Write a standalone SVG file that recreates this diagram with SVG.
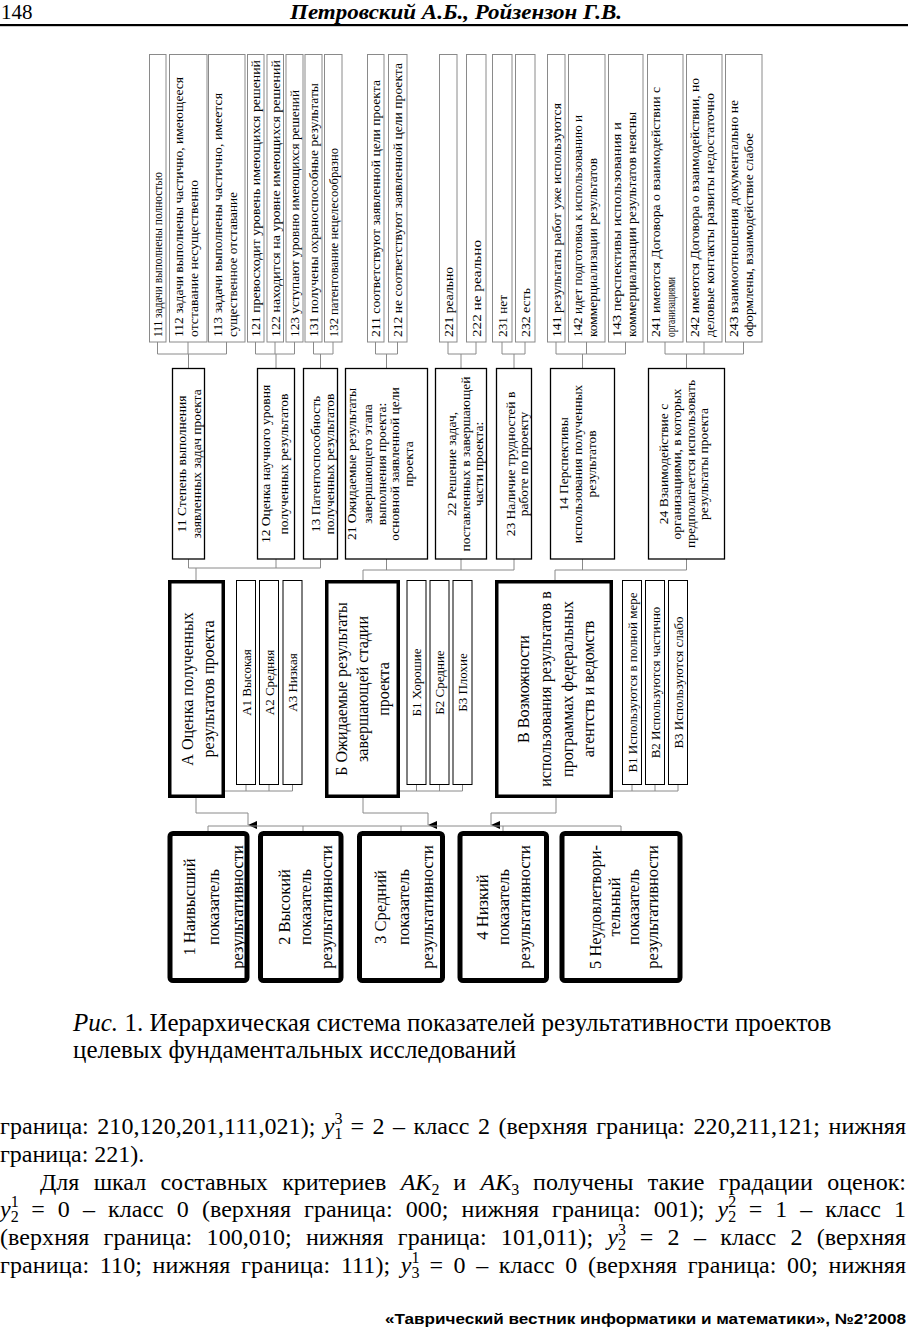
<svg xmlns="http://www.w3.org/2000/svg" width="908" height="1332" viewBox="0 0 908 1332">
<style>
text{font-family:"Liberation Serif","Times New Roman",serif;fill:#000}
.leaf rect{fill:#fff;stroke:#8a8a8a;stroke-width:1}
.mid rect{fill:#fff;stroke:#000;stroke-width:1.3}
.sub rect{fill:#fff;stroke:#000;stroke-width:1}
.lv2 rect{fill:#fff;stroke:#000;stroke-width:3.5}
.bot rect{fill:#fff;stroke:#000;stroke-width:5}
.lt{font-size:13px}
.mt{font-size:13.5px;text-anchor:middle}
.st{font-size:13px;text-anchor:middle}
.l2t{font-size:16px;text-anchor:middle}
.bt{font-size:16.5px;text-anchor:middle}
.conn path{fill:none;stroke:#8a8a8a;stroke-width:1}
.body{font-size:24px}
.cap{font-size:25px}
.mi{font-size:24px;font-style:italic}
.ms{font-size:16px}
</style>
<defs>
<marker id="ah" markerUnits="userSpaceOnUse" markerWidth="8" markerHeight="9" refX="4" refY="9" orient="auto-start-reverse" viewBox="0 0 8 9">
<path d="M0,0 L8,0 L4,9 z" fill="#000"/>
</marker>
</defs>
<rect x="0" y="0" width="908" height="1332" fill="#fff"/>

<g id="header">
<text x="1" y="19" style="font-size:21px">148</text>
<text x="456" y="19" style="font-size:21px;font-weight:bold;font-style:italic;text-anchor:middle" textLength="332" lengthAdjust="spacingAndGlyphs">Петровский А.Б., Ройзензон Г.В.</text>
<rect x="0" y="24" width="908" height="2.2" fill="#000"/>
</g>

<g id="connectors" class="conn">
<path d="M157.5,342V354M188,342V354M226.5,342V354M157.5,354H226.5M188.5,354V368"/>
<path d="M255.5,342V354M275,342V354M294.5,342V354M255.5,354H294.5M276,354V368"/>
<path d="M313.5,342V354M333,342V354M313.5,354H333M320.5,354V368"/>
<path d="M375.5,342V354M397.5,342V354M375.5,354H397.5M386.5,354V368"/>
<path d="M448,342V354M476,342V354M448,354H476M461,354V368"/>
<path d="M502,342V354M525,342V354M502,354H525M514,354V368"/>
<path d="M556,342V354M586.5,342V354M625.5,342V354M556,354H625.5M582.5,354V368"/>
<path d="M665,342V354M704,342V354M743.5,342V354M665,354H743.5M686.5,354V368"/>
<path d="M188.5,559V568M276,559V568M320.5,559V568M188.5,568H320.5M196,568V580"/>
<path d="M386.5,559V570M461,559V570M514,559V570M363,570H514M363,570V580"/>
<path d="M582.5,559V570M686.5,559V570M555,570H686.5M555,570V580"/>
<path d="M246,785V791M269,785V791M292.5,785V791M225,791H292.5"/>
<path d="M416.5,785V791M439.5,785V791M462.5,785V791M400,791H462.5"/>
<path d="M632,785V791M655,785V791M678,785V791M613,791H678"/>
<path d="M196,798V813H248V825" marker-end="url(#ah)"/>
<path d="M363,798V813H428V825" marker-end="url(#ah)"/>
<path d="M556,798V813H491V825" marker-end="url(#ah)"/>
<path d="M208,826H621M208,826V831M303,826V831M401,826V831M503,826V831M621,826V831"/>
</g>

<g id="n111" class="leaf"><rect x="149.5" y="54.5" width="16.5" height="287.5"/>
<text class="lt" transform="translate(162,337) rotate(-90)" textLength="165" lengthAdjust="spacingAndGlyphs">111 задачи выполнены полностью</text></g>
<g id="n112" class="leaf"><rect x="169.5" y="54.5" width="37.5" height="287.5"/>
<text class="lt" transform="translate(182.5,337) rotate(-90)" textLength="260" lengthAdjust="spacingAndGlyphs">112 задачи выполнены частично, имеющееся</text>
<text class="lt" transform="translate(197.5,337) rotate(-90)" textLength="157" lengthAdjust="spacingAndGlyphs">отставание несущественно</text></g>
<g id="n113" class="leaf"><rect x="208.5" y="54.5" width="36.5" height="287.5"/>
<text class="lt" transform="translate(221.5,337) rotate(-90)" textLength="244" lengthAdjust="spacingAndGlyphs">113 задачи выполнены частично, имеется</text>
<text class="lt" transform="translate(236.5,337) rotate(-90)" textLength="145" lengthAdjust="spacingAndGlyphs">существенное отставание</text></g>
<g id="n121" class="leaf"><rect x="247.5" y="54.5" width="16.5" height="287.5"/>
<text class="lt" transform="translate(260,337) rotate(-90)" textLength="277" lengthAdjust="spacingAndGlyphs">121 превосходит уровень имеющихся решений</text></g>
<g id="n122" class="leaf"><rect x="267" y="54.5" width="16.5" height="287.5"/>
<text class="lt" transform="translate(279.5,337) rotate(-90)" textLength="277" lengthAdjust="spacingAndGlyphs">122 находится на уровне имеющихся решений</text></g>
<g id="n123" class="leaf"><rect x="286" y="54.5" width="17" height="287.5"/>
<text class="lt" transform="translate(299,337) rotate(-90)" textLength="247" lengthAdjust="spacingAndGlyphs">123 уступают уровню имеющихся решений</text></g>
<g id="n131" class="leaf"><rect x="305" y="54.5" width="17" height="287.5"/>
<text class="lt" transform="translate(318,337) rotate(-90)" textLength="254" lengthAdjust="spacingAndGlyphs">131 получены охраноспособные результаты</text></g>
<g id="n132" class="leaf"><rect x="324.5" y="54.5" width="17.5" height="287.5"/>
<text class="lt" transform="translate(337.5,337) rotate(-90)" textLength="189" lengthAdjust="spacingAndGlyphs">132 патентование нецелесообразно</text></g>
<g id="n211" class="leaf"><rect x="367.5" y="54.5" width="16.5" height="287.5"/>
<text class="lt" transform="translate(380,337) rotate(-90)" textLength="257" lengthAdjust="spacingAndGlyphs">211 соответствуют заявленной цели проекта</text></g>
<g id="n212" class="leaf"><rect x="388.5" y="54.5" width="18.5" height="287.5"/>
<text class="lt" transform="translate(402,337) rotate(-90)" textLength="274" lengthAdjust="spacingAndGlyphs">212 не соответствуют заявленной цели проекта</text></g>
<g id="n221" class="leaf"><rect x="439.5" y="54.5" width="17.5" height="287.5"/>
<text class="lt" transform="translate(452.5,337) rotate(-90)" textLength="70" lengthAdjust="spacingAndGlyphs">221 реально</text></g>
<g id="n222" class="leaf"><rect x="466.5" y="54.5" width="19.5" height="287.5"/>
<text class="lt" transform="translate(480.5,337) rotate(-90)" textLength="97" lengthAdjust="spacingAndGlyphs">222 не реально</text></g>
<g id="n231" class="leaf"><rect x="492.5" y="54.5" width="19.5" height="287.5"/>
<text class="lt" transform="translate(506.5,337) rotate(-90)" textLength="42" lengthAdjust="spacingAndGlyphs">231 нет</text></g>
<g id="n232" class="leaf"><rect x="515.5" y="54.5" width="19.5" height="287.5"/>
<text class="lt" transform="translate(529.5,337) rotate(-90)" textLength="49" lengthAdjust="spacingAndGlyphs">232 есть</text></g>
<g id="n141" class="leaf"><rect x="547.5" y="54.5" width="17.5" height="287.5"/>
<text class="lt" transform="translate(560.5,337) rotate(-90)" textLength="234" lengthAdjust="spacingAndGlyphs">141 результаты работ уже используются</text></g>
<g id="n142" class="leaf"><rect x="568.5" y="54.5" width="36.5" height="287.5"/>
<text class="lt" transform="translate(581.5,337) rotate(-90)" textLength="222" lengthAdjust="spacingAndGlyphs">142 идет подготовка к использованию и</text>
<text class="lt" transform="translate(596.5,337) rotate(-90)" textLength="179" lengthAdjust="spacingAndGlyphs">коммерциализации результатов</text></g>
<g id="n143" class="leaf"><rect x="608.5" y="54.5" width="34.5" height="287.5"/>
<text class="lt" transform="translate(621,337) rotate(-90)" textLength="215" lengthAdjust="spacingAndGlyphs">143 перспективы использования и</text>
<text class="lt" transform="translate(636,337) rotate(-90)" textLength="225" lengthAdjust="spacingAndGlyphs">коммерциализации результатов неясны</text></g>
<g id="n241" class="leaf"><rect x="647.5" y="54.5" width="35.5" height="287.5"/>
<text class="lt" transform="translate(660,337) rotate(-90)" textLength="250" lengthAdjust="spacingAndGlyphs">241 имеются Договора о взаимодействии с</text>
<text class="lt" transform="translate(675,337) rotate(-90)" textLength="60" lengthAdjust="spacingAndGlyphs">организациями</text></g>
<g id="n242" class="leaf"><rect x="686.5" y="54.5" width="35.5" height="287.5"/>
<text class="lt" transform="translate(699,337) rotate(-90)" textLength="259" lengthAdjust="spacingAndGlyphs">242 имеются Договора о взаимодействии, но</text>
<text class="lt" transform="translate(714,337) rotate(-90)" textLength="244" lengthAdjust="spacingAndGlyphs">деловые контакты развиты недостаточно</text></g>
<g id="n243" class="leaf"><rect x="725.5" y="54.5" width="36.5" height="287.5"/>
<text class="lt" transform="translate(738,337) rotate(-90)" textLength="237" lengthAdjust="spacingAndGlyphs">243 взаимоотношения документально не</text>
<text class="lt" transform="translate(753,337) rotate(-90)" textLength="204" lengthAdjust="spacingAndGlyphs">оформлены,  взаимодействие слабое</text></g>

<g id="n11" class="mid"><rect x="172.5" y="368.5" width="32" height="190.5"/>
<text class="mt" transform="translate(186,464) rotate(-90)">11 Степень выполнения</text>
<text class="mt" transform="translate(201,464) rotate(-90)">заявленных задач проекта</text></g>
<g id="n12" class="mid"><rect x="257.5" y="368.5" width="37" height="190.5"/>
<text class="mt" transform="translate(270,464) rotate(-90)">12 Оценка научного уровня</text>
<text class="mt" transform="translate(288,464) rotate(-90)">полученных  результатов</text></g>
<g id="n13" class="mid"><rect x="303.5" y="368.5" width="34" height="190.5"/>
<text class="mt" transform="translate(319.5,464) rotate(-90)">13 Патентоспособность</text>
<text class="mt" transform="translate(333.5,464) rotate(-90)">полученных результатов</text></g>
<g id="n21" class="mid"><rect x="345.5" y="368.5" width="82" height="190.5"/>
<text class="mt" transform="translate(356,464) rotate(-90)">21 Ожидаемые результаты</text>
<text class="mt" transform="translate(371.5,464) rotate(-90)">завершающего этапа</text>
<text class="mt" transform="translate(385.5,464) rotate(-90)">выполнения проекта:</text>
<text class="mt" transform="translate(399,464) rotate(-90)">основной заявленной цели</text>
<text class="mt" transform="translate(412.5,464) rotate(-90)">проекта</text></g>
<g id="n22" class="mid"><rect x="435.5" y="368.5" width="51" height="190.5"/>
<text class="mt" transform="translate(456,464) rotate(-90)">22 Решение задач,</text>
<text class="mt" transform="translate(469.5,464) rotate(-90)">поставленных в завершающей</text>
<text class="mt" transform="translate(482.5,464) rotate(-90)">части проекта:</text></g>
<g id="n23" class="mid"><rect x="496.5" y="368.5" width="35" height="190.5"/>
<text class="mt" transform="translate(514.5,464) rotate(-90)">23 Наличие трудностей в</text>
<text class="mt" transform="translate(527.5,464) rotate(-90)">работе по проекту</text></g>
<g id="n14" class="mid"><rect x="550.5" y="368.5" width="64" height="190.5"/>
<text class="mt" transform="translate(568,464) rotate(-90)">14 Перспективы</text>
<text class="mt" transform="translate(581.5,464) rotate(-90)">использования полученных</text>
<text class="mt" transform="translate(596,464) rotate(-90)">результатов</text></g>
<g id="n24" class="mid"><rect x="648.5" y="368.5" width="76" height="190.5"/>
<text class="mt" transform="translate(667.5,464) rotate(-90)">24 Взаимодействие с</text>
<text class="mt" transform="translate(681,464) rotate(-90)">организациями, в которых</text>
<text class="mt" transform="translate(694.5,464) rotate(-90)">предполагается использовать</text>
<text class="mt" transform="translate(708,464) rotate(-90)">результаты проекта</text></g>

<g id="nA" class="lv2"><rect x="169.75" y="581.75" width="53.5" height="214.5"/>
<text class="l2t" transform="translate(192.5,689) rotate(-90)">А Оценка полученных</text>
<text class="l2t" transform="translate(214,689) rotate(-90)">результатов проекта</text></g>
<g id="nB" class="lv2"><rect x="326.75" y="581.75" width="71.5" height="214.5"/>
<text class="l2t" transform="translate(347,689) rotate(-90)">Б Ожидаемые результаты</text>
<text class="l2t" transform="translate(367.5,689) rotate(-90)">завершающей стадии</text>
<text class="l2t" transform="translate(388.5,689) rotate(-90)">проекта</text></g>
<g id="nV" class="lv2"><rect x="496.75" y="581.75" width="114.5" height="214.5"/>
<text class="l2t" transform="translate(529,689) rotate(-90)">В Возможности</text>
<text class="l2t" transform="translate(551,689) rotate(-90)">использования результатов в</text>
<text class="l2t" transform="translate(572.5,689) rotate(-90)">программах федеральных</text>
<text class="l2t" transform="translate(594,689) rotate(-90)">агентств и ведомств</text></g>

<g id="nA1" class="sub"><rect x="236.5" y="580.5" width="19" height="204"/><text class="st" transform="translate(250.5,682.5) rotate(-90)">А1 Высокая</text></g>
<g id="nA2" class="sub"><rect x="259.5" y="580.5" width="19" height="204"/><text class="st" transform="translate(273.5,682.5) rotate(-90)">А2 Средняя</text></g>
<g id="nA3" class="sub"><rect x="283" y="580.5" width="19" height="204"/><text class="st" transform="translate(297,682.5) rotate(-90)">А3 Низкая</text></g>
<g id="nB1" class="sub"><rect x="407" y="580.5" width="19" height="204"/><text class="st" transform="translate(421,682.5) rotate(-90)">Б1 Хорошие</text></g>
<g id="nB2" class="sub"><rect x="430" y="580.5" width="19" height="204"/><text class="st" transform="translate(444,682.5) rotate(-90)">Б2 Средние</text></g>
<g id="nB3" class="sub"><rect x="453" y="580.5" width="19" height="204"/><text class="st" transform="translate(467,682.5) rotate(-90)">Б3 Плохие</text></g>
<g id="nV1" class="sub"><rect x="622.5" y="580.5" width="19" height="204"/><text class="st" transform="translate(636.5,682.5) rotate(-90)">В1 Используются в полной мере</text></g>
<g id="nV2" class="sub"><rect x="645.5" y="580.5" width="19" height="204"/><text class="st" transform="translate(659.5,682.5) rotate(-90)">В2 Используются частично</text></g>
<g id="nV3" class="sub"><rect x="668.5" y="580.5" width="19" height="204"/><text class="st" transform="translate(682.5,682.5) rotate(-90)">В3 Используются слабо</text></g>

<g id="r1" class="bot"><rect x="170" y="833.5" width="77" height="147" rx="3"/>
<text class="bt" transform="translate(195,907) rotate(-90)">1 Наивысший</text>
<text class="bt" transform="translate(219,907) rotate(-90)">показатель</text>
<text class="bt" transform="translate(243,907) rotate(-90)">результативности</text></g>
<g id="r2" class="bot"><rect x="260.5" y="833.5" width="80.5" height="147" rx="3"/>
<text class="bt" transform="translate(289.5,907) rotate(-90)">2 Высокий</text>
<text class="bt" transform="translate(310.5,907) rotate(-90)">показатель</text>
<text class="bt" transform="translate(331.5,907) rotate(-90)">результативности</text></g>
<g id="r3" class="bot"><rect x="359.5" y="833.5" width="83" height="147" rx="3"/>
<text class="bt" transform="translate(386,907) rotate(-90)">3 Средний</text>
<text class="bt" transform="translate(409,907) rotate(-90)">показатель</text>
<text class="bt" transform="translate(433,907) rotate(-90)">результативности</text></g>
<g id="r4" class="bot"><rect x="460" y="833.5" width="86.5" height="147" rx="3"/>
<text class="bt" transform="translate(488,907) rotate(-90)">4 Низкий</text>
<text class="bt" transform="translate(509,907) rotate(-90)">показатель</text>
<text class="bt" transform="translate(530,907) rotate(-90)">результативности</text></g>
<g id="r5" class="bot"><rect x="562" y="833.5" width="118" height="147" rx="3"/>
<text class="bt" transform="translate(601,907) rotate(-90)">5 Неудовлетвори-</text>
<text class="bt" transform="translate(620,907) rotate(-90)">тельный</text>
<text class="bt" transform="translate(639,907) rotate(-90)">показатель</text>
<text class="bt" transform="translate(658,907) rotate(-90)">результативности</text></g>

<g id="caption">
<text class="cap" x="73" y="1031"><tspan font-style="italic">Рис.</tspan> 1. Иерархическая система показателей результативности проектов</text>
<text class="cap" x="73" y="1058">целевых фундаментальных исследований</text>
</g>

<g id="bodytext">
<text class="body" x="0" y="1134" style="word-spacing:2.4px" textLength="315.4" lengthAdjust="spacing">граница: 210,120,201,111,021);</text>
<text class="mi" x="323.8" y="1134">y</text><text class="ms" x="334.5" y="1124">3</text><text class="ms" x="334.5" y="1139">1</text>
<text class="body" x="350.4" y="1134" style="word-spacing:2.4px" textLength="555.6" lengthAdjust="spacing">= 2 – класс 2 (верхняя граница: 220,211,121; нижняя</text>

<text class="body" x="0" y="1162">граница: 221).</text>

<text class="body" x="40" y="1190" style="word-spacing:8.4px" textLength="346.3" lengthAdjust="spacing">Для шкал составных критериев</text>
<text class="mi" x="400.7" y="1190">AK</text><text class="ms" x="431.4" y="1195">2</text>
<text class="body" x="453.3" y="1190">и</text>
<text class="mi" x="480.5" y="1190">AK</text><text class="ms" x="511.2" y="1195">3</text>
<text class="body" x="533.1" y="1190" style="word-spacing:8.4px" textLength="372.9" lengthAdjust="spacing">получены такие градации оценок:</text>

<text class="mi" x="0" y="1217">y</text><text class="ms" x="10.7" y="1207">1</text><text class="ms" x="10.7" y="1222">2</text>
<text class="body" x="31.2" y="1217" style="word-spacing:7px" textLength="673.3" lengthAdjust="spacing">= 0 – класс 0 (верхняя граница: 000; нижняя граница: 001);</text>
<text class="mi" x="717.5" y="1217">y</text><text class="ms" x="728.2" y="1207">2</text><text class="ms" x="728.2" y="1222">2</text>
<text class="body" x="748.7" y="1217" style="word-spacing:7px" textLength="157.3" lengthAdjust="spacing">= 1 – класс 1</text>

<text class="body" x="0" y="1245" style="word-spacing:8.2px" textLength="593.1" lengthAdjust="spacing">(верхняя граница: 100,010; нижняя граница: 101,011);</text>
<text class="mi" x="607.3" y="1245">y</text><text class="ms" x="618" y="1235">3</text><text class="ms" x="618" y="1250">2</text>
<text class="body" x="639.7" y="1245" style="word-spacing:8.2px" textLength="266.3" lengthAdjust="spacing">= 2 – класс 2 (верхняя</text>

<text class="body" x="0" y="1273" style="word-spacing:4.5px" textLength="390.2" lengthAdjust="spacing">граница: 110; нижняя граница: 111);</text>
<text class="mi" x="400.7" y="1273">y</text><text class="ms" x="411.4" y="1263">1</text><text class="ms" x="411.4" y="1278">3</text>
<text class="body" x="429.4" y="1273" style="word-spacing:4.5px" textLength="476.6" lengthAdjust="spacing">= 0 – класс 0 (верхняя граница: 00; нижняя</text>
</g>

<g id="footer">
<text x="906" y="1324" style="font-family:'Liberation Sans',Arial,sans-serif;font-size:15px;font-weight:bold;text-anchor:end" textLength="521" lengthAdjust="spacingAndGlyphs">«Таврический вестник информатики и математики», №2’2008</text>
</g>
</svg>
